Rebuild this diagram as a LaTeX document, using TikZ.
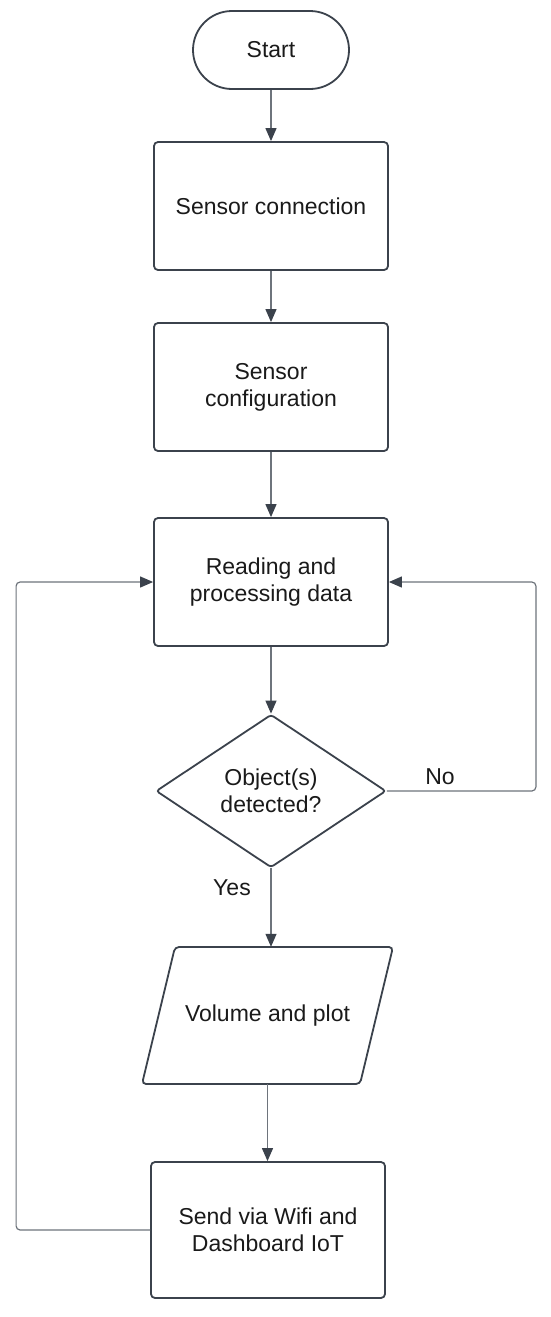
\documentclass[tikz,border=0pt]{standalone}
\usepackage{fontspec}
\setmainfont{Liberation Sans}
\usetikzlibrary{shapes.geometric,arrows.meta}
\definecolor{edgec}{HTML}{3B424C}
\definecolor{connc}{HTML}{6E747C}
\definecolor{txtc}{HTML}{1A1A1A}
\begin{document}
\begin{tikzpicture}[x=1pt,y=-1pt,
  lbl/.style={text=txtc,font=\fontsize{23}{27}\selectfont,align=center,inner sep=0pt},
  box/.style={lbl,draw=edgec,line width=1.8pt,rounded corners=4pt,minimum width=234pt,minimum height=128pt},
  term/.style={lbl,draw=edgec,line width=1.8pt,rounded corners=39pt,minimum width=156pt,minimum height=78pt},
  decision/.style={lbl,diamond,draw=edgec,line width=1.8pt,rounded corners=3pt,minimum width=230pt,minimum height=153pt},
  conn/.style={draw=connc,line width=1.2pt,-{Triangle[length=13pt,width=11pt,color=edgec]}},
  loopline/.style={conn,rounded corners=4pt},
  edgelbl/.style={text=txtc,font=\fontsize{23}{27}\selectfont,inner sep=0pt}
]
\useasboundingbox (0,0) rectangle (550,1317);
\fill[white] (0,0) rectangle (550,1317);

\node[term] (start) at (271,50) {Start};
\node[box] (conn1) at (271,206) {Sensor connection};
\node[box] (config) at (271,387) {Sensor\\configuration};
\node[box] (read) at (271,582) {Reading and\\processing data};
\node[decision] (dec) at (271,791) {Object(s)\\detected?};
\draw[edgec,line width=1.8pt,rounded corners=4pt] (175,947) -- (393,947) -- (360,1084) -- (142,1084) -- cycle;
\node[lbl,minimum width=200pt,minimum height=137pt] (vp) at (267.5,1015.5) {Volume and plot};
\node[box,minimum height=136pt] (send) at (268,1230) {Send via Wifi and\\Dashboard IoT};

\draw[conn] (start) -- (conn1);
\draw[conn] (conn1) -- (config);
\draw[conn] (config) -- (read);
\draw[conn] (read) -- (dec);
\draw[conn] (dec.south) -- (dec.south |- vp.north);
\draw[conn] (vp.south) -- (vp.south |- send.north);
\draw[loopline] (dec.east) -- ++(149,0) |- (read.east);
\draw[loopline] (send.west) -- ++(-134,0) |- (read.west);

\node[edgelbl] (nolbl) at (440,777) {No};
\node[edgelbl] (yeslbl) at (232,888) {Yes};
\end{tikzpicture}
\end{document}
